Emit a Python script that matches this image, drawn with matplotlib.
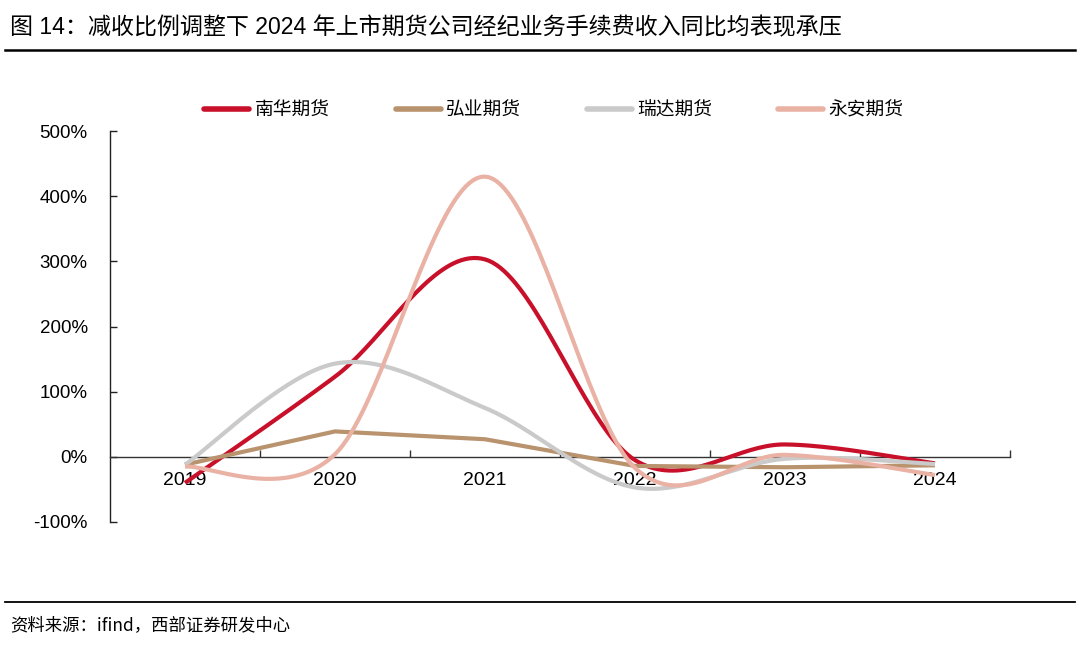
import numpy as np
import matplotlib
matplotlib.use("Agg")
import matplotlib.pyplot as plt
from matplotlib.lines import Line2D

plt.rcParams['font.family'] = ['Liberation Sans', 'Noto Sans CJK SC', 'DejaVu Sans']

years = ['2019', '2020', '2021', '2022', '2023', '2024']
nanhua = [-40, 123, 303, -5, 19, -10]
hongye = [-12, 39, 27, -14, -16, -13]
ruida = [-12, 143, 75, -47, -3, -11]
yongan = [-15, 4, 430, -17, 3, -28]

series_names = ['南华期货', '弘业期货', '瑞达期货', '永安期货']
colors = ['#C8102A', '#B8936E', '#CACACA', '#EAB2A5']
smooth = [True, False, True, True]
yticks = [-100, 0, 100, 200, 300, 400, 500]


def catmull_rom(xs, ys, n=40):
    xs = np.asarray(xs, float)
    ys = np.asarray(ys, float)
    px = np.concatenate([[xs[0]], xs, [xs[-1]]])
    py = np.concatenate([[ys[0]], ys, [ys[-1]]])
    outx, outy = [], []
    t = np.linspace(0, 1, n)
    for i in range(1, len(px) - 2):
        p0x, p1x, p2x, p3x = px[i - 1], px[i], px[i + 1], px[i + 2]
        p0y, p1y, p2y, p3y = py[i - 1], py[i], py[i + 1], py[i + 2]
        c1x = p1x + (p2x - p0x) / 6
        c1y = p1y + (p2y - p0y) / 6
        c2x = p2x - (p3x - p1x) / 6
        c2y = p2y - (p3y - p1y) / 6
        bx = (1 - t) ** 3 * p1x + 3 * (1 - t) ** 2 * t * c1x + 3 * (1 - t) * t ** 2 * c2x + t ** 3 * p2x
        by = (1 - t) ** 3 * p1y + 3 * (1 - t) ** 2 * t * c1y + 3 * (1 - t) * t ** 2 * c2y + t ** 3 * p2y
        if i > 1:
            bx, by = bx[1:], by[1:]
        outx.append(bx)
        outy.append(by)
    return np.concatenate(outx), np.concatenate(outy)


fig = plt.figure(figsize=(10.8, 6.46), dpi=100)
ax = fig.add_axes([110 / 1080, 1 - 522 / 646, 900 / 1080, 391 / 646])

x = np.arange(len(years))
handles = []
for vals, name, c, sm in zip([nanhua, hongye, ruida, yongan], series_names, colors, smooth):
    if sm:
        sx, sy = catmull_rom(x, vals)
    else:
        sx, sy = x, np.asarray(vals, float)
    ax.plot(sx, sy, color=c, lw=3.0, solid_capstyle='butt', solid_joinstyle='round', zorder=3)
    handles.append(Line2D([0], [0], color=c, lw=4.0, solid_capstyle='round'))

ax.set_xlim(-0.5, 5.5)
ax.set_ylim(-100, 500)
ax.set_yticks(yticks)
ax.set_yticklabels([f'{v}%' for v in yticks])
ax.set_xticks(x)
ax.set_xticks(x + 0.5, minor=True)
ax.set_xticklabels(years)

for s in ['top', 'right']:
    ax.spines[s].set_visible(False)
ax.spines['bottom'].set_position(('data', 0))
ax.spines['bottom'].set_color('#333333')
ax.spines['bottom'].set_linewidth(1.0)
ax.spines['left'].set_color('#222222')
ax.spines['left'].set_linewidth(1.0)

ax.tick_params(axis='y', direction='in', length=5, width=1, pad=16, colors='#222222',
               labelcolor='#000000', labelsize=13.5)
ax.tick_params(axis='x', which='major', length=0, pad=11, labelcolor='#000000', labelsize=14)
ax.tick_params(axis='x', which='minor', direction='in', length=5, width=1, colors='#333333')

leg = fig.legend(handles, series_names, loc='center', bbox_to_anchor=(554 / 1080, 1 - 110 / 646),
                 ncol=4, frameon=False, handlelength=2.4, handletextpad=0.3,
                 columnspacing=3.5, prop={'family': ['Noto Sans CJK SC'], 'size': 13.5})

fig.text(10 / 1080, 1 - 28 / 646, '图 14：减收比例调整下 2024 年上市期货公司经纪业务手续费收入同比均表现承压',
         fontsize=16.6, ha='left', va='center', color='#000000', fontweight='medium')
fig.add_artist(Line2D([5 / 1080, 1075 / 1080], [1 - 50 / 646, 1 - 50 / 646], color='#000000', lw=1.8))
fig.add_artist(Line2D([5 / 1080, 1075 / 1080], [1 - 602 / 646, 1 - 602 / 646], color='#000000', lw=1.3))
fig.text(10 / 1080, 1 - 625 / 646, '资料来源：ifind，西部证券研发中心', fontsize=12.5, ha='left', va='center',
         color='#000000', family=['Noto Sans CJK SC', 'DejaVu Sans'])

fig.savefig('out.png', dpi=100)
